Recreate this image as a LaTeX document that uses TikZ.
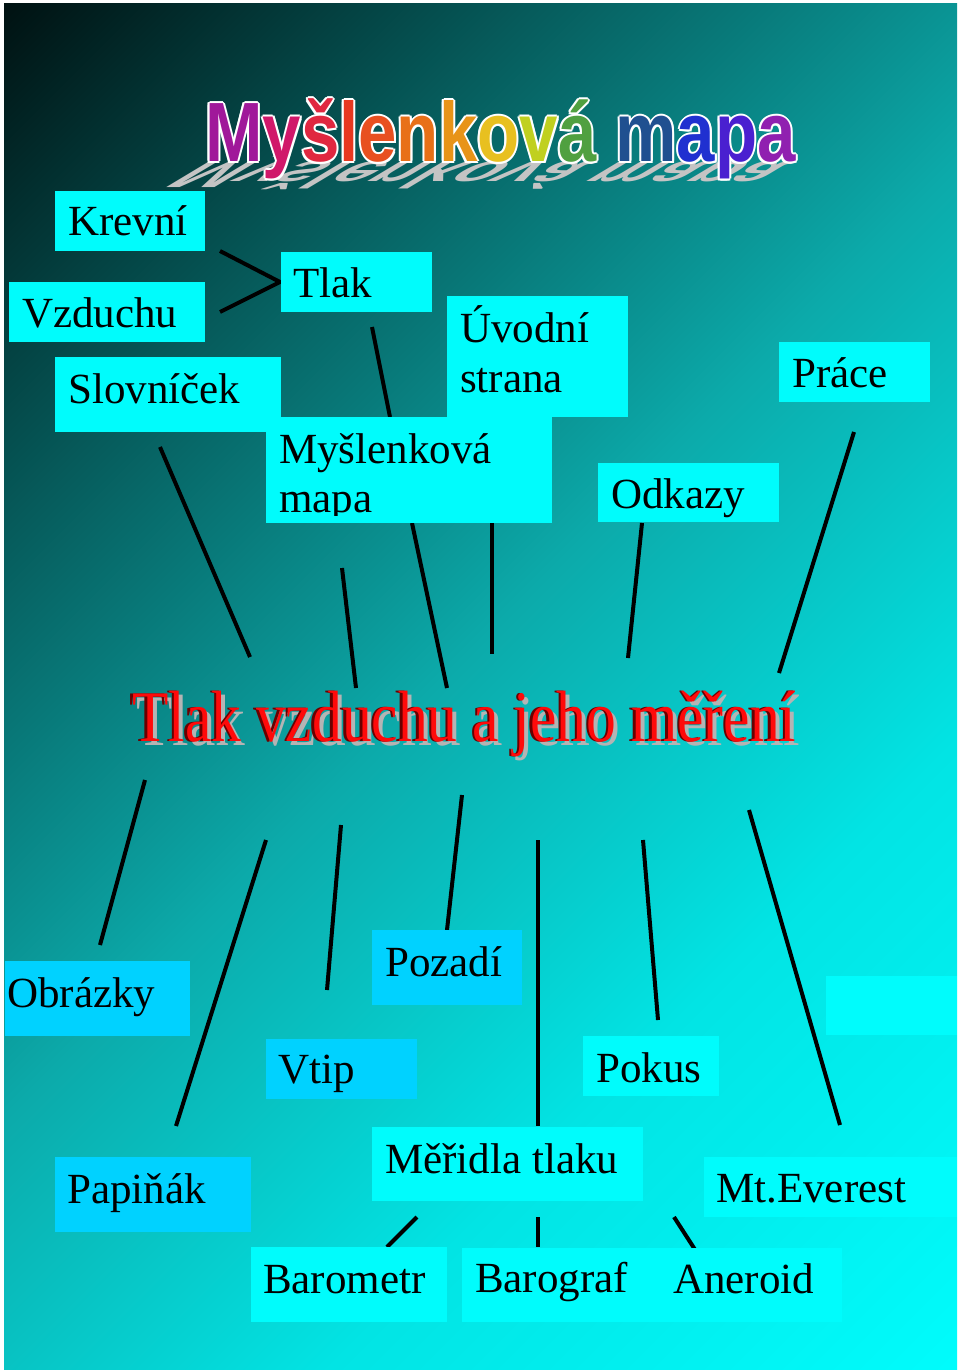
\documentclass[tikz,border=0pt]{standalone}
\usepackage{fontspec}
\usepackage{graphicx}
\setmainfont{Liberation Serif}
\newfontfamily\titlesans{Liberation Sans}
\definecolor{bgA}{HTML}{001212}
\definecolor{bgB}{HTML}{065C5C}
\definecolor{bgC}{HTML}{0CAAAA}
\definecolor{bgD}{HTML}{02E4E4}
\definecolor{bgE}{HTML}{00FCFC}
\definecolor{boxcyan}{HTML}{00FCFC}
\definecolor{boxblue}{HTML}{00D2FF}
\definecolor{rA}{HTML}{A0189A}
\definecolor{rB}{HTML}{D0186A}
\definecolor{rC}{HTML}{E02840}
\definecolor{rD}{HTML}{E83820}
\definecolor{rE}{HTML}{E85020}
\definecolor{rF}{HTML}{E87018}
\definecolor{rG}{HTML}{E89418}
\definecolor{rH}{HTML}{E8C020}
\definecolor{rI}{HTML}{C0D020}
\definecolor{rJ}{HTML}{50A040}
\definecolor{rK}{HTML}{205090}
\definecolor{rL}{HTML}{2030D0}
\definecolor{rM}{HTML}{4A20D0}
\definecolor{rN}{HTML}{9020B0}
\definecolor{shadowgrey}{HTML}{C4C4C4}
\definecolor{tlred}{HTML}{FF0A0A}
\definecolor{tldark}{HTML}{6A0000}
\definecolor{tlgrey}{HTML}{B4B4B4}
\pgfdeclarehorizontalshading{bgshade}{100bp}{color(0bp)=(bgA); color(14.64bp)=(bgA); color(30.9bp)=(bgB); color(48.6bp)=(bgC); color(66.3bp)=(bgD); color(85.36bp)=(bgE); color(100bp)=(bgE)}
\def\mmforce{}
\newcommand\mmL[2]{{\ifx\mmforce\empty\color{#1}\else\color{\mmforce}\fi #2}}
\newcommand\mmword{\mmL{rA}{M}\mmL{rB}{y}\mmL{rC}{š}\mmL{rD}{l}\mmL{rE}{e}\mmL{rF}{n}\mmL{rG}{k}\mmL{rH}{o}\mmL{rI}{v}\mmL{rJ}{á}\ \mmL{rK}{m}\mmL{rL}{a}\mmL{rM}{p}\mmL{rN}{a}}
\newcommand\tltext{Tlak vzduchu a jeho měření}
\tikzset{
  boxc/.style={fill=boxcyan, draw=none, inner sep=0pt, anchor=north west},
  boxb/.style={fill=boxblue, draw=none, inner sep=0pt, anchor=north west},
  lbl/.style={anchor=base west, inner sep=0pt, font=\fontsize{43}{50}\selectfont},
  ttl/.style={anchor=base west, inner sep=0pt, font=\titlesans\bfseries\fontsize{69}{80}\selectfont},
  tl/.style={anchor=base west, inner sep=0pt, font=\fontsize{59.5}{66}\selectfont},
  conn/.style={line width=4pt, black, line cap=butt}
}
\begin{document}
\begin{tikzpicture}[x=1pt, y=-1pt]
\useasboundingbox (0,0) rectangle (960,1372);
\fill[white] (0,0) rectangle (960,1372);
\shade[shading=bgshade, shading angle=-45] (4,4) rectangle (957,1369);

% ---- title 1: Myšlenková mapa
\begin{scope}[shift={(205,162)}]
\node[ttl, transform shape, cm={1,0,-0.75,-0.45,(0,0)}] (mmshadow) at (0,0) {\def\mmforce{shadowgrey}\scalebox{1}[1.22]{\mmword}};
\end{scope}
\foreach \dx/\dy/\k in {-2/0/1,2/0/2,0/-2/3,0/2/4,-1.5/-1.5/5,1.5/-1.5/6,-1.5/1.5/7,1.5/1.5/8}
  \node[ttl, xshift=\dx pt, yshift=\dy pt] (mmo\k) at (205,162) {\def\mmforce{white}\scalebox{1}[1.22]{\mmword}};
\node[ttl] (mmtitle) at (205,162) {\scalebox{1}[1.22]{\mmword}};

% ---- title 2: Tlak vzduchu a jeho měření
\node[tl, text=tlgrey, xshift=4pt, yshift=-4pt] (tlshadow) at (132,741) {\scalebox{1}[1.22]{\tltext}};
\node[tl, text=tldark, xshift=-2.5pt] (tldarkcopy) at (132,741) {\scalebox{1}[1.22]{\tltext}};
\node[tl, text=tlred] (tltitle) at (132,741) {\scalebox{1}[1.22]{\tltext}};

% ---- connector end points
\coordinate (k1) at (220,251); \coordinate (v1) at (220,312); \coordinate (t1) at (280,282);
\coordinate (t2) at (372,327); \coordinate (m1) at (390,417);
\coordinate (s1) at (160,447); \coordinate (s2) at (250,657);
\coordinate (a1) at (342,568); \coordinate (a2) at (356,688);
\coordinate (b1) at (412,523); \coordinate (b2) at (447,688);
\coordinate (c1) at (492,523); \coordinate (c2) at (492,654);
\coordinate (o1) at (642,523); \coordinate (o2) at (628,658);
\coordinate (p1) at (854,432); \coordinate (p2) at (779,673);
\coordinate (d1) at (145,780); \coordinate (d2) at (100,945);
\coordinate (e1) at (266,840); \coordinate (e2) at (176,1126);
\coordinate (f1) at (341,825); \coordinate (f2) at (327,990);
\coordinate (g1) at (462,795); \coordinate (g2) at (447,930);
\coordinate (h1) at (538,840); \coordinate (h2) at (538,1126);
\coordinate (i1) at (643,840); \coordinate (i2) at (658,1020);
\coordinate (j1) at (749,810); \coordinate (j2) at (840,1125);
\coordinate (l1) at (417,1217); \coordinate (l2) at (387,1247);
\coordinate (n1) at (538,1217); \coordinate (n2) at (538,1247);
\coordinate (q1) at (674,1217); \coordinate (q2) at (703,1262);

\draw[conn] (k1) -- (t1) -- (v1);
\foreach \u/\w in {t2/m1,s1/s2,a1/a2,b1/b2,c1/c2,o1/o2,p1/p2,d1/d2,e1/e2,f1/f2,g1/g2,h1/h2,i1/i2,j1/j2,l1/l2,n1/n2,q1/q2}
  \draw[conn] (\u) -- (\w);

% ---- boxes
\node[boxc, minimum width=150, minimum height=60] (krevni) at (55,191) {};
\node[boxc, minimum width=196, minimum height=60] (vzduchu) at (9,282) {};
\node[boxc, minimum width=151, minimum height=60] (tlak) at (281,252) {};
\node[boxc, minimum width=226, minimum height=75] (slovnicek) at (55,357) {};
\node[boxc, minimum width=181, minimum height=121] (uvodni) at (447,296) {};
\node[boxc, minimum width=286, minimum height=106] (myslenkova) at (266,417) {};
\node[boxc, minimum width=181, minimum height=59] (odkazy) at (598,463) {};
\node[boxc, minimum width=151, minimum height=60] (prace) at (779,342) {};
\node[boxb, minimum width=185, minimum height=75] (obrazky) at (5,961) {};
\node[boxb, minimum width=150, minimum height=75] (pozadi) at (372,930) {};
\node[boxb, minimum width=151, minimum height=60] (vtip) at (266,1039) {};
\node[boxc, minimum width=136, minimum height=60] (pokus) at (583,1036) {};
\node[boxc, minimum width=131, minimum height=59] (prazdny) at (826,976) {};
\node[boxb, minimum width=196, minimum height=75] (papinak) at (55,1157) {};
\node[boxc, minimum width=271, minimum height=74] (meridla) at (372,1127) {};
\node[boxc, minimum width=253, minimum height=60] (everest) at (704,1157) {};
\node[boxc, minimum width=196, minimum height=75] (barometr) at (251,1247) {};
\node[boxc, minimum width=199, minimum height=74] (barograf) at (462,1248) {};
\node[boxc, minimum width=182, minimum height=74] (aneroid) at (660,1248) {};

% ---- labels
\node[lbl] (tkrevni) at (68,236) {Krevní};
\node[lbl] (tvzduchu) at (22,327) {Vzduchu};
\node[lbl] (ttlak) at (293,297) {Tlak};
\node[lbl] (tslovnicek) at (68,403) {Slovníček};
\node[lbl] (tuvodni) at (460,342) {Úvodní};
\node[lbl] (tstrana) at (460,392) {strana};
\node[lbl] (tmysl) at (279,463) {Myšlenková};
\begin{scope}
\clip (266,417) rectangle (552,515);
\node[lbl] (tmapa) at (279,512) {mapa};
\end{scope}
\node[lbl] (todkazy) at (611,508) {Odkazy};
\node[lbl] (tprace) at (792,387) {Práce};
\node[lbl] (tobrazky) at (7,1007) {Obrázky};
\node[lbl] (tpozadi) at (385,976) {Pozadí};
\node[lbl] (tvtip) at (278,1083) {Vtip};
\node[lbl] (tpokus) at (596,1082) {Pokus};
\node[lbl] (tpapinak) at (67,1203) {Papiňák};
\node[lbl] (tmeridla) at (385,1173) {Měřidla tlaku};
\node[lbl] (teverest) at (716,1202) {Mt.Everest};
\node[lbl] (tbarometr) at (263,1293) {Barometr};
\node[lbl] (tbarograf) at (475,1292) {Barograf};
\node[lbl] (taneroid) at (673,1293) {Aneroid};
\end{tikzpicture}
\end{document}
